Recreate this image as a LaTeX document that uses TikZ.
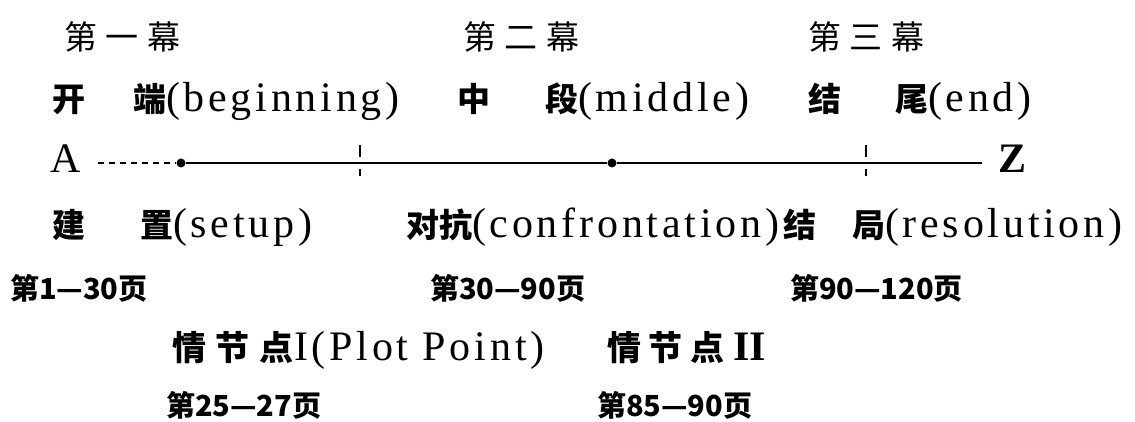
\documentclass[tikz,border=0pt]{standalone}
\usepackage{fontspec}
\setmainfont[LetterSpace=9]{Liberation Serif}
\newfontfamily\cjk{Noto Sans CJK SC}
\newcommand{\hz}[1]{{\cjk\bfseries\fontsize{33}{33}\selectfont #1}}
\begin{document}
\begin{tikzpicture}[x=1pt,y=-1pt,
  txt/.style={anchor=west, inner sep=0pt, outer sep=0pt, text height=28pt, text depth=8pt},
  act/.style={txt, font=\cjk\fontsize{33}{33}\selectfont},
  lab/.style={txt, font=\fontsize{42}{42}\selectfont},
  pgs/.style={txt, font=\cjk\bfseries\fontsize{29}{29}\selectfont, text height=24pt, text depth=6pt},
  dotn/.style={circle, fill=black, inner sep=0pt, minimum size=9pt},
  tick/.style={line width=1.6pt},
  axis/.style={line width=1.6pt}]
\useasboundingbox (0,0) rectangle (1135,422);
% row 1
\node[act] (a1) at (64,40) {第\kern9pt 一\kern9pt 幕};
\node[act] (a2) at (463,40) {第\kern9pt 二\kern9pt 幕};
\node[act] (a3) at (808,40) {第\kern9pt 三\kern9pt 幕};
% row 2
\node[lab] (kai) at (52,102) {\hz{开}};
\node[lab] (duan) at (133,102) {\hz{端}(beginning)};
\node[lab] (zhong) at (457,102) {\hz{中}};
\node[lab] (duan2) at (545,102) {\hz{段}(middle)};
\node[lab] (jie) at (808,102) {\hz{结}};
\node[lab] (wei) at (895,102) {\hz{尾}(end)};
% row 3
\node[lab] (A) at (50,163) {A};
\node[lab] (Z) at (998,163) {\textbf{Z}};
\node[dotn] (p1) at (181,163) {};
\node[dotn] (p2) at (612,163) {};
\coordinate (t1) at (360,163);
\coordinate (t2) at (866,163);
\draw[axis, dash pattern=on 6pt off 5pt, shorten <=18pt] (A.east) -- (p1);
\draw[axis] (p1) -- (t1) -- (p2) -- (t2) -- ([xshift=-16pt]Z.west);
\draw[tick] ([yshift=-13pt]t1) -- ([yshift=-6pt]t1) ([yshift=6pt]t1) -- ([yshift=18pt]t1);
\draw[tick] ([yshift=-13pt]t2) -- ([yshift=-6pt]t2) ([yshift=6pt]t2) -- ([yshift=18pt]t2);
% row 4
\node[lab] (jian) at (52,227) {\hz{建}};
\node[lab] (zhi) at (140,227) {\hz{置}(setup)};
\node[lab] (dui) at (406,227) {\hz{对抗}(confrontation)};
\node[lab] (jie2) at (783,227) {\hz{结}};
\node[lab] (ju) at (852,227) {\hz{局}(resolution)};
% row 5
\node[pgs] (g1) at (10,290) {第1—30页};
\node[pgs] (g2) at (430,290) {第30—90页};
\node[pgs] (g3) at (790,290) {第90—120页};
% row 6
\node[lab] (pp1) at (172,350) {{\cjk\bfseries\fontsize{34}{34}\selectfont 情\kern10pt 节\kern10pt 点}I(Plot Point)};
\node[lab] (pp2) at (607,350) {{\cjk\bfseries\fontsize{34}{34}\selectfont 情\kern8pt 节\kern8pt 点\kern8pt}{\addfontfeature{LetterSpace=0}\textbf{II}}};
% row 7
\node[pgs] (g4) at (166,407) {第25—27页};
\node[pgs] (g5) at (597,407) {第85—90页};
\end{tikzpicture}
\end{document}
